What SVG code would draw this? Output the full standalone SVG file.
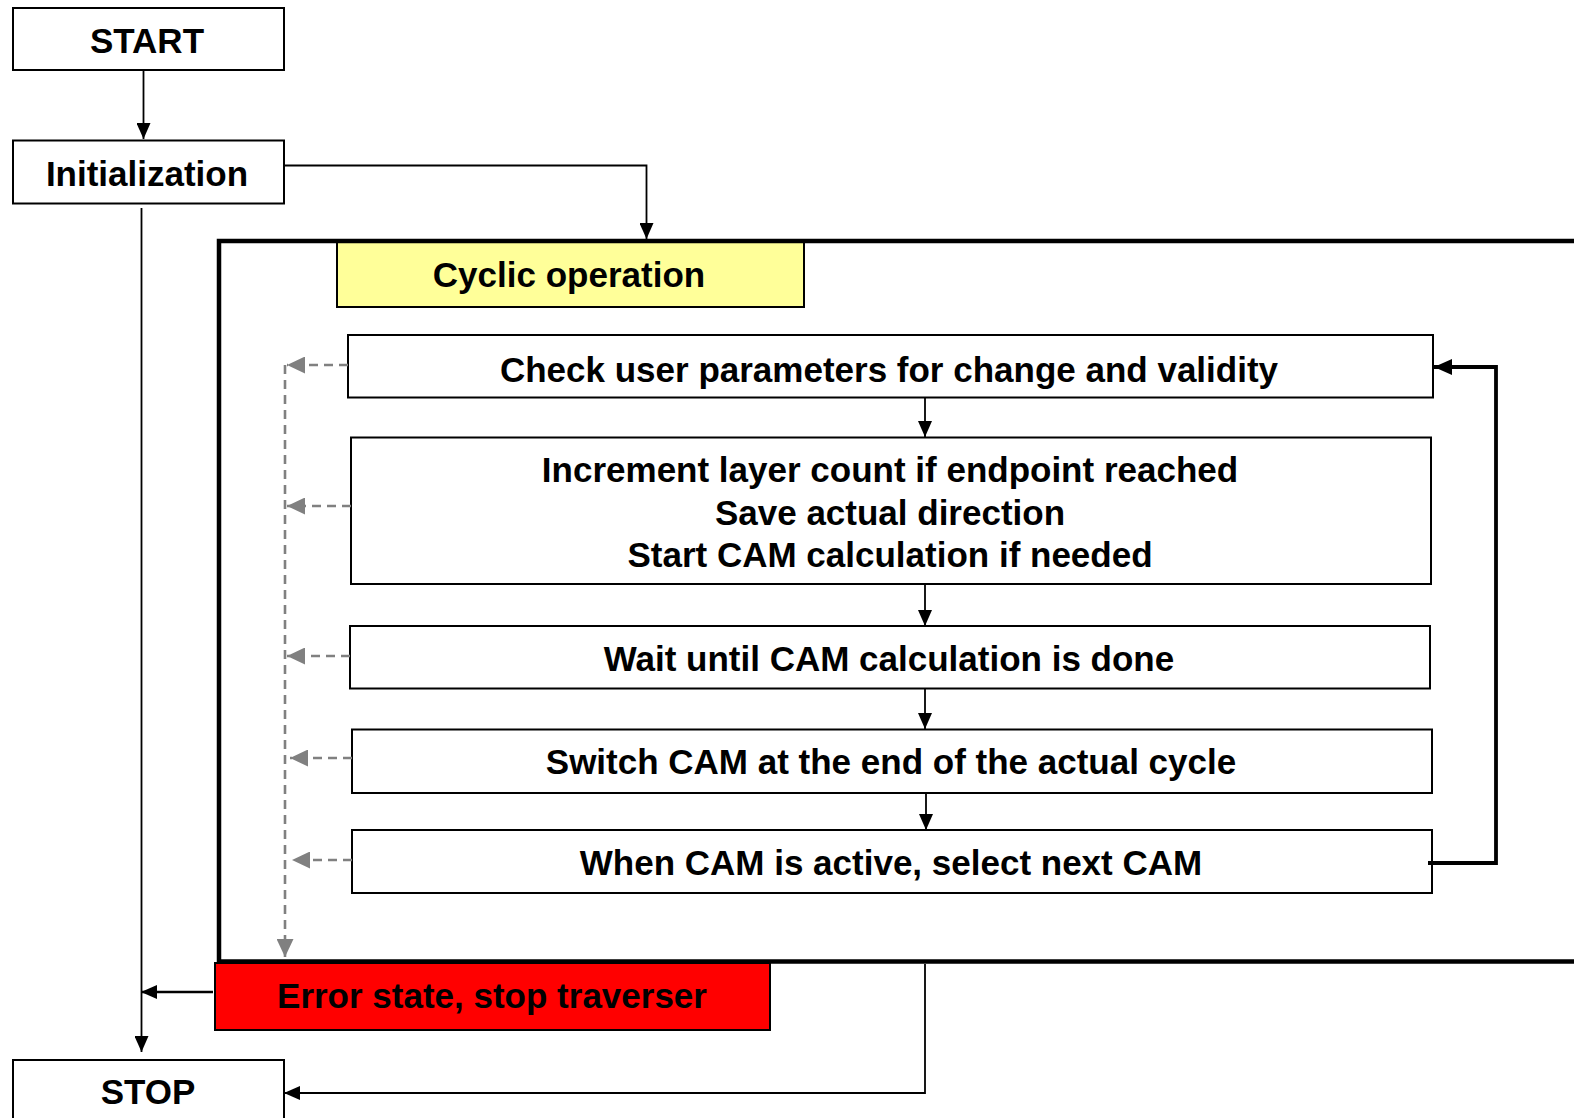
<svg xmlns="http://www.w3.org/2000/svg" width="1574" height="1118" viewBox="0 0 1574 1118">
<style>
.box{fill:#fff;stroke:#000;stroke-width:2}
.t{font-family:"Liberation Sans",Arial,sans-serif;font-weight:bold;font-size:35px;fill:#000;text-anchor:middle}
.c{fill:none;stroke:#000;stroke-width:1.8}
.thick{stroke-width:3.8}
.mid{stroke-width:2.6}
.d{fill:none;stroke:#808080;stroke-width:2.6;stroke-dasharray:9 6}
</style>
<defs>
<marker id="ab" markerUnits="userSpaceOnUse" markerWidth="16" markerHeight="14" viewBox="0 0 16 14" refX="16" refY="7" orient="auto"><path d="M0,0 L16,7 L0,14 z" fill="#000"/></marker>
<marker id="abl" markerUnits="userSpaceOnUse" markerWidth="18" markerHeight="16" viewBox="0 0 18 16" refX="18" refY="8" orient="auto"><path d="M0,0 L18,8 L0,16 z" fill="#000"/></marker>
<marker id="ag" markerUnits="userSpaceOnUse" markerWidth="18" markerHeight="17" viewBox="0 0 18 17" refX="18" refY="8.5" orient="auto"><path d="M0,0 L18,8.5 L0,17 z" fill="#808080"/></marker>
</defs>
<g id="start"><rect class="box" x="13" y="8" width="271" height="62"/><text class="t" x="147" y="53">START</text></g>
<g id="init"><rect class="box" x="13" y="140.5" width="271" height="63"/><text class="t" x="147" y="186">Initialization</text></g>
<g id="error"><rect x="215" y="963" width="555" height="67" fill="#ff0000" stroke="#000" stroke-width="2"/><text class="t" x="492" y="1008">Error state, stop traverser</text></g>
<g id="cyclic"><rect x="337" y="242" width="467" height="65" fill="#ffff99" stroke="#000" stroke-width="2"/><text class="t" x="569" y="287">Cyclic operation</text>
<rect x="219" y="241" width="1400" height="720.5" fill="none" stroke="#000" stroke-width="4.5"/></g>
<g id="check"><rect class="box" x="348" y="335" width="1085" height="62.5"/><text class="t" x="889" y="382">Check user parameters for change and validity</text></g>
<g id="increment"><rect class="box" x="351" y="437.5" width="1080" height="146.5"/><text class="t" x="890" y="482">Increment layer count if endpoint reached</text><text class="t" x="890" y="525">Save actual direction</text><text class="t" x="890" y="567">Start CAM calculation if needed</text></g>
<g id="wait"><rect class="box" x="350" y="626" width="1080" height="62.5"/><text class="t" x="889" y="671">Wait until CAM calculation is done</text></g>
<g id="switch"><rect class="box" x="352" y="729.5" width="1080" height="63.5"/><text class="t" x="891" y="774">Switch CAM at the end of the actual cycle</text></g>
<g id="when"><rect class="box" x="352" y="830" width="1080" height="63"/><text class="t" x="891" y="875">When CAM is active, select next CAM</text></g>
<g id="stop"><rect class="box" x="13" y="1060" width="271" height="80"/><text class="t" x="148" y="1104">STOP</text></g>
<g id="connectors">
<path class="c" d="M143.5,70 V139" marker-end="url(#ab)"/>
<path class="c" d="M284,165.5 H646.5 V239" marker-end="url(#ab)"/>
<path class="c" d="M141.5,208 V1052" marker-end="url(#ab)"/>
<path class="c" d="M925,398 V437" marker-end="url(#ab)"/>
<path class="c" d="M925,584 V626" marker-end="url(#ab)"/>
<path class="c" d="M925,689 V729" marker-end="url(#ab)"/>
<path class="c" d="M926,793 V830" marker-end="url(#ab)"/>
<path class="c thick" d="M1428,863 H1496 V367 H1434" marker-end="url(#abl)"/>
<path class="c mid" d="M213,992 H141" marker-end="url(#ab)"/>
<path class="c" d="M925,964 V1093 H284" marker-end="url(#ab)"/>
<path class="d" d="M348,365 H287" marker-end="url(#ag)"/>
<path class="d" d="M351,506 H287" marker-end="url(#ag)"/>
<path class="d" d="M350,656 H287" marker-end="url(#ag)"/>
<path class="d" d="M352,758 H290" marker-end="url(#ag)"/>
<path class="d" d="M352,860 H292" marker-end="url(#ag)"/>
<path class="d" d="M285,365 V957" marker-end="url(#ag)"/>
</g>
</svg>
